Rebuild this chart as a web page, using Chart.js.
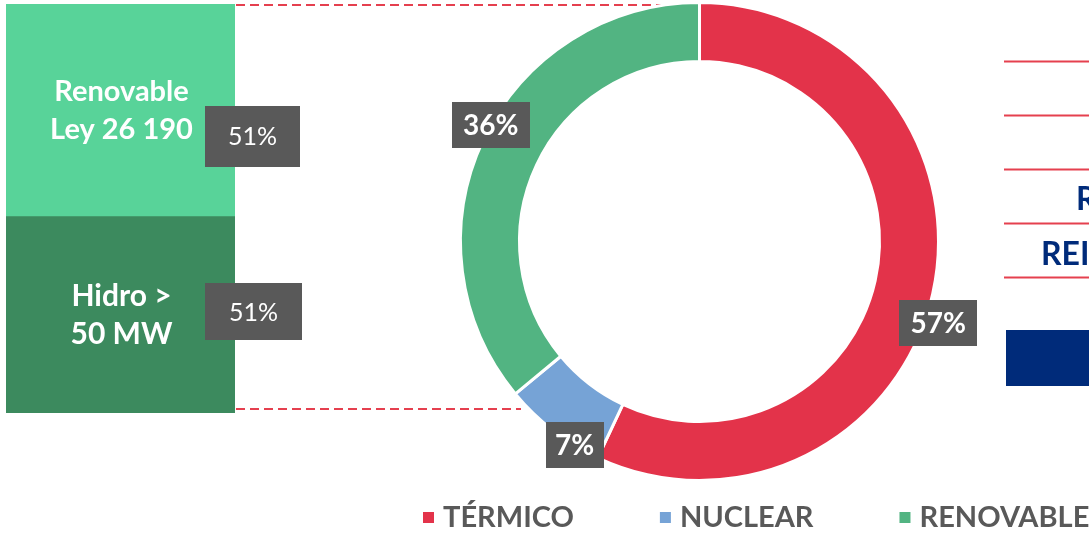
<!DOCTYPE html>
<html>
<head>
<meta charset="utf-8">
<script src="https://cdn.jsdelivr.net/npm/chart.js@4.4.1/dist/chart.umd.min.js"></script>
<style>
  body { margin: 0; background: #fff; }
  #wrap { position: relative; width: 1089px; height: 533px; overflow: hidden; }
  canvas { position: absolute; left: 0; top: 0; }
</style>
</head>
<body>
<div id="wrap">
  <canvas id="donut" width="1089" height="533" style="width:1089px;height:533px"></canvas>
  <canvas id="bar" width="310" height="420" style="width:310px;height:420px"></canvas>
</div>
<script>
// generation mix
const SOURCES = ['TÉRMICO', 'NUCLEAR', 'RENOVABLE']
const SHARES = [57, 7, 36]
const SHARE_LABELS = ['57%', '7%', '36%']

// renewable breakdown (bottom to top)
const PARTS = [['Hidro >', '50 MW'], ['Renovable', 'Ley 26 190']]
const PART_SHARES = [48, 52]
const PART_LABELS = ['51%', '51%']

// cut-off text on the right edge
const SIDE_TEXT = ['R', 'REI']

const COLOURS = ['#E3334A', '#76A3D6', '#52B482']
const PART_COLOURS = ['#3C8A5E', '#58D399']
const BOX = '#595959'
const RED = '#E5404F'
const NAVY = '#002B7A'
const FONT = 'Lato, "Open Sans", sans-serif'

function labelBox(ctx, text, cx, cy, w, h, font) {
  ctx.fillStyle = BOX
  ctx.fillRect(Math.round(cx - w / 2), Math.round(cy - h / 2), w, h)
  ctx.fillStyle = '#fff'
  ctx.font = font
  ctx.textAlign = 'center'
  ctx.textBaseline = 'middle'
  ctx.fillText(text, cx, cy + 1)
}

const partText = {
  id: 'partText',
  afterDatasetsDraw(chart) {
    const ctx = chart.ctx
    const sizes = [30, 29]
    const lineGap = [38, 38]
    const boxShift = [-3, 26]
    const boxSize = [[97, 57], [95, 61]]
    ctx.save()
    PARTS.forEach((lines, i) => {
      const el = chart.getDatasetMeta(i).data[0]
      const mid = (el.y + el.base) / 2
      ctx.fillStyle = '#fff'
      ctx.font = 'bold ' + sizes[i] + 'px ' + FONT
      ctx.textAlign = 'center'
      ctx.textBaseline = 'middle'
      lines.forEach((t, j) => {
        ctx.fillText(t, el.x + 1, mid + (j - (lines.length - 1) / 2) * lineGap[i])
      })
      const [w, h] = boxSize[i]
      labelBox(ctx, PART_LABELS[i], chart.chartArea.right - 30 + w / 2, mid + boxShift[i], w, h, '25px ' + FONT)
    })
    ctx.restore()
  },
}

new Chart(document.getElementById('bar'), {
  type: 'bar',
  data: {
    labels: [''],
    datasets: PARTS.map((p, i) => ({
      label: p.join(' '),
      data: [PART_SHARES[i]],
      backgroundColor: PART_COLOURS[i],
      barPercentage: 1,
      categoryPercentage: 1,
    })),
  },
  options: {
    responsive: false,
    animation: false,
    layout: { padding: { left: 6, top: 4, right: 75, bottom: 7 } },
    plugins: { legend: { display: false }, tooltip: { enabled: false } },
    scales: {
      x: { display: false, stacked: true },
      y: { display: false, stacked: true, min: 0, max: 100 },
    },
  },
  plugins: [partText],
})

const decor = {
  id: 'decor',
  beforeDatasetsDraw(chart) {
    const ctx = chart.ctx
    ctx.save()
    // dashed connectors
    ctx.strokeStyle = RED
    ctx.lineWidth = 2
    ctx.setLineDash([9, 5])
    ctx.beginPath()
    ctx.moveTo(236, 5); ctx.lineTo(697, 5)
    ctx.moveTo(236, 409); ctx.lineTo(521, 409)
    ctx.stroke()
    ctx.setLineDash([])
    // right side rules
    ;[61.5, 115.5, 169.5, 223.5, 277.5].forEach(y => {
      ctx.beginPath()
      ctx.moveTo(1004, y); ctx.lineTo(1089, y)
      ctx.stroke()
    })
    ctx.fillStyle = NAVY
    ctx.font = 'bold 32px ' + FONT
    ctx.textAlign = 'left'
    ctx.textBaseline = 'alphabetic'
    ctx.fillText(SIDE_TEXT[0], 1076, 210)
    ctx.fillText(SIDE_TEXT[1], 1041, 265)
    ctx.fillRect(1006, 330, 83, 56)
    ctx.restore()
  },
}

const shareLabels = {
  id: 'shareLabels',
  afterDatasetsDraw(chart) {
    const ctx = chart.ctx
    const frac = [0.53, 0.25, 0.53]
    const push = [13, 0, 0]
    const widths = [78, 58, 78]
    ctx.save()
    chart.getDatasetMeta(0).data.forEach((arc, i) => {
      const a = arc.startAngle + (arc.endAngle - arc.startAngle) * frac[i]
      const r = arc.outerRadius + push[i]
      labelBox(ctx, SHARE_LABELS[i], arc.x + Math.cos(a) * r, arc.y + Math.sin(a) * r, widths[i], 46, 'bold 28px ' + FONT)
    })
    ctx.restore()
  },
}

const legendRow = {
  id: 'legendRow',
  afterDraw(chart) {
    const ctx = chart.ctx
    ctx.save()
    ctx.font = 'bold 29px ' + FONT
    ctx.textBaseline = 'middle'
    ctx.textAlign = 'left'
    let x = 423
    chart.data.labels.forEach((label, i) => {
      ctx.fillStyle = COLOURS[i]
      ctx.fillRect(x, 512, 11, 11)
      ctx.fillStyle = BOX
      ctx.fillText(label, x + 20, 518)
      x += 20 + ctx.measureText(label).width + 86
    })
    ctx.restore()
  },
}

new Chart(document.getElementById('donut'), {
  type: 'doughnut',
  data: {
    labels: SOURCES,
    datasets: [{
      data: SHARES,
      backgroundColor: COLOURS,
      borderColor: '#fff',
      borderWidth: 3,
    }],
  },
  options: {
    responsive: false,
    animation: false,
    cutout: 180,
    layout: { padding: { left: 459, right: 149, top: 1, bottom: 51 } },
    plugins: { legend: { display: false }, tooltip: { enabled: false } },
  },
  plugins: [decor, shareLabels, legendRow],
})
</script>
</body>
</html>
